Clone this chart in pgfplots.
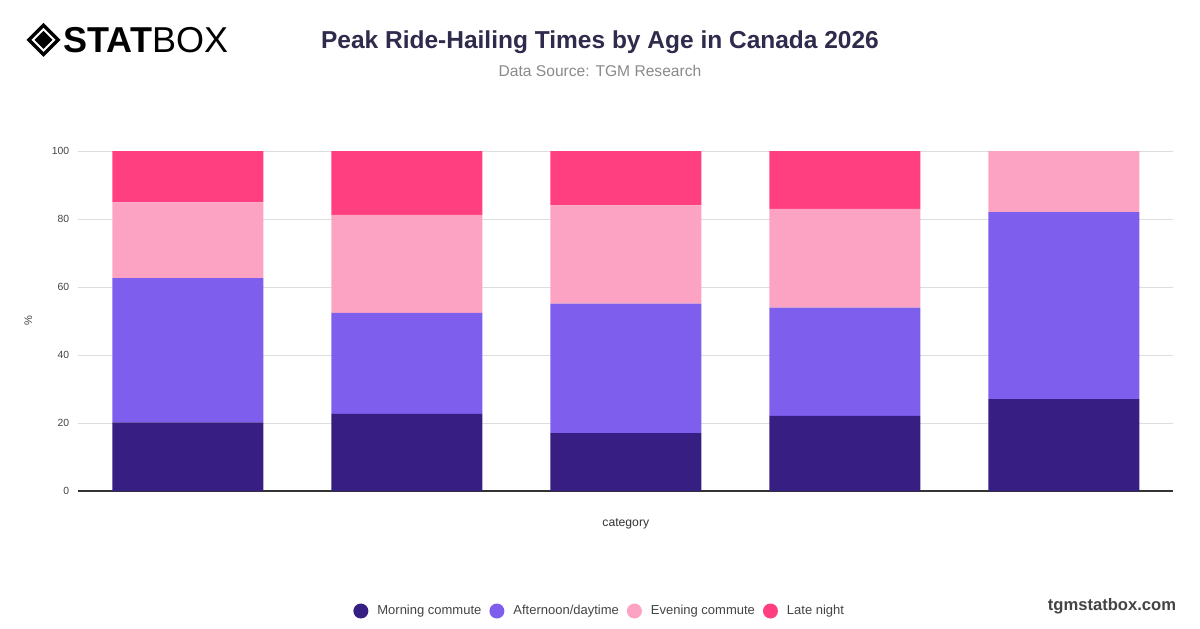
\documentclass[border=0pt]{standalone}
\usepackage{pgfplots}
\pgfplotsset{compat=1.18}
\usepackage{fontspec}
\setmainfont{Liberation Sans}
\definecolor{cMorning}{HTML}{371E83}
\definecolor{cAfter}{HTML}{7E5EEC}
\definecolor{cEven}{HTML}{FCA3C3}
\definecolor{cLate}{HTML}{FF3F80}
\definecolor{cTitle}{HTML}{2E2B4C}
\definecolor{cSub}{HTML}{8A8A8A}
\definecolor{cTick}{HTML}{444444}
\definecolor{cGrid}{HTML}{DDDDDD}
\definecolor{cAxis}{HTML}{333333}
\begin{document}
\begin{tikzpicture}
\path[fill=white] (0,0) rectangle (600pt,314pt);
% logo
\fill[black] (21.75pt,302.5pt) -- (30.25pt,294pt) -- (21.75pt,285.5pt) -- (13.25pt,294pt) -- cycle;
\fill[white] (21.75pt,300pt) -- (27.75pt,294pt) -- (21.75pt,288pt) -- (15.75pt,294pt) -- cycle;
\fill[black] (21.75pt,298.5pt) -- (26.25pt,294pt) -- (21.75pt,289.5pt) -- (17.25pt,294pt) -- cycle;
\node[anchor=base west, inner sep=0pt, font=\fontsize{18}{20}\selectfont\bfseries] at (31.5pt,287.5pt) {STAT\mdseries BOX};
% title
\node[anchor=center, inner sep=0pt, text=cTitle, font=\fontsize{12.25}{14}\selectfont\bfseries] at (300pt,293pt) {Peak Ride-Hailing Times by Age in Canada 2026};
\node[anchor=center, inner sep=0pt, text=cSub, font=\fontsize{7.8}{9}\selectfont] at (300pt,278.5pt) {Data Source: TGM Research};
\node[anchor=center, inner sep=0pt, text=cTick, font=\fontsize{8.3}{10}\selectfont\bfseries] at (556pt,11pt) {tgmstatbox.com};
\begin{axis}[
  at={(39.15pt,68.5pt)}, anchor=south west,
  scale only axis, width=547.5pt, height=170pt,
  ybar stacked, bar width=75.5pt,
  xmin=-0.5, xmax=4.5, ymin=0, ymax=100,
  xtick=\empty,
  ytick={0,20,40,60,80,100},
  ymajorgrids, grid style={cGrid, line width=0.5pt},
  axis x line*=bottom, axis y line*=left,
  x axis line style={cAxis, line width=0.6pt, -},
  y axis line style={draw=none},
  major tick length=0pt,
  ytick style={draw=none},
  /pgf/number format/assume math mode=true,
  yticklabel style={font=\fontsize{5.2}{6}\selectfont, text=cTick, xshift=-1pt},
  ylabel={\%},
  ylabel style={at={(axis description cs:-0.0457,0.5)}, anchor=center, font=\fontsize{5.5}{6}\selectfont, text=cTick},
  xlabel={category},
  xlabel style={at={(axis description cs:0.5,-0.097)}, anchor=center, font=\fontsize{6.1}{7}\selectfont, text=cAxis},
  legend columns=4,
  legend style={at={(axis description cs:0.4771,-0.353)}, anchor=center, draw=none, fill=none,
    font=\fontsize{6.5}{8}\selectfont, text=cTick,
    /tikz/every odd column/.append style={column sep=2.5pt},
    /tikz/every even column/.append style={column sep=2pt}},
  legcirc/.style={legend image code/.code={\fill[##1, draw=none] (3.75pt,0pt) circle (3.75pt);}},
]
\addplot[fill=cMorning, draw=none, legcirc] coordinates {(0,20.2) (1,22.7) (2,17.0) (3,22.1) (4,27.0)};
\addplot[fill=cAfter, draw=none, legcirc] coordinates {(0,42.4) (1,29.7) (2,38.1) (3,31.8) (4,55.0)};
\addplot[fill=cEven, draw=none, legcirc] coordinates {(0,22.3) (1,28.8) (2,28.9) (3,29.1) (4,18.0)};
\addplot[fill=cLate, draw=none, legcirc] coordinates {(0,15.1) (1,18.8) (2,16.0) (3,17.0) (4,0)};
\legend{Morning commute, Afternoon/daytime, Evening commute, Late night}
\end{axis}
\end{tikzpicture}
\end{document}
